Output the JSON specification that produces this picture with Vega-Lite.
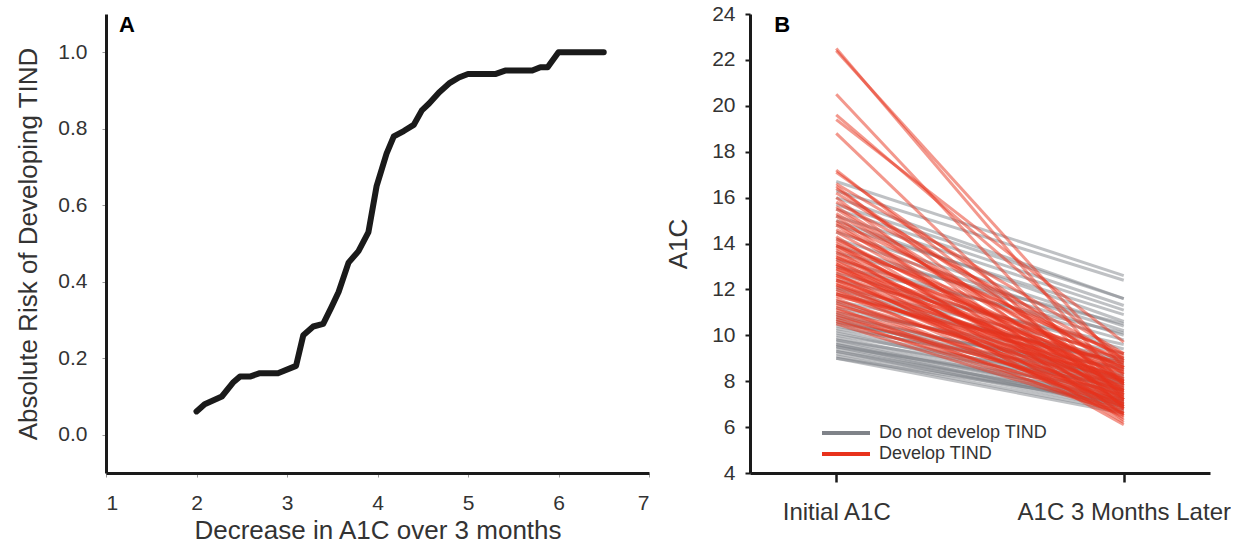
{
  "$schema": "https://vega.github.io/schema/vega-lite/v6.json",
  "background": "white",
  "padding": {"left": 15, "top": 3, "right": 0, "bottom": 0},
  "spacing": 15,
  "config": {
    "view": {"stroke": null},
    "font": "Liberation Sans",
    "axis": {"grid": false, "domainColor": "#1a1a1a", "domainWidth": 3, "labelColor": "#333333", "titleColor": "#333333", "titleFontWeight": "normal", "labelFont": "Liberation Sans", "titleFont": "Liberation Sans", "labelLimit": 400}
  },
  "hconcat": [
    {
      "width": 543,
      "height": 459,
      "layer": [
        {
          "data": {"values": [
            {"decrease": 2.0, "risk": 0.061}, {"decrease": 2.09, "risk": 0.08}, {"decrease": 2.28, "risk": 0.10},
            {"decrease": 2.41, "risk": 0.138}, {"decrease": 2.48, "risk": 0.152}, {"decrease": 2.59, "risk": 0.152},
            {"decrease": 2.7, "risk": 0.161}, {"decrease": 2.9, "risk": 0.161}, {"decrease": 3.1, "risk": 0.18},
            {"decrease": 3.18, "risk": 0.26}, {"decrease": 3.29, "risk": 0.283}, {"decrease": 3.4, "risk": 0.29},
            {"decrease": 3.49, "risk": 0.333}, {"decrease": 3.57, "risk": 0.373}, {"decrease": 3.68, "risk": 0.45},
            {"decrease": 3.79, "risk": 0.48}, {"decrease": 3.9, "risk": 0.53}, {"decrease": 3.99, "risk": 0.65},
            {"decrease": 4.1, "risk": 0.735}, {"decrease": 4.18, "risk": 0.78}, {"decrease": 4.29, "risk": 0.794},
            {"decrease": 4.4, "risk": 0.81}, {"decrease": 4.49, "risk": 0.848}, {"decrease": 4.57, "risk": 0.866},
            {"decrease": 4.68, "risk": 0.895}, {"decrease": 4.8, "risk": 0.92}, {"decrease": 4.9, "risk": 0.934},
            {"decrease": 5.0, "risk": 0.943}, {"decrease": 5.3, "risk": 0.943}, {"decrease": 5.41, "risk": 0.952},
            {"decrease": 5.71, "risk": 0.952}, {"decrease": 5.8, "risk": 0.961}, {"decrease": 5.88, "risk": 0.961},
            {"decrease": 6.0, "risk": 1.0}, {"decrease": 6.5, "risk": 1.0}
          ]},
          "mark": {"type": "line", "color": "#1a1a1a", "strokeWidth": 6, "strokeCap": "round", "strokeJoin": "round"},
          "encoding": {
            "x": {"field": "decrease", "type": "quantitative",
                  "scale": {"domain": [1, 7], "nice": false, "zero": false},
                  "axis": {"title": "Decrease in A1C over 3 months", "values": [1, 2, 3, 4, 5, 6, 7], "format": "d",
                           "tickColor": "#999999", "tickSize": 4, "tickWidth": 1, "labelPadding": 15, "labelFontSize": 21,
                           "titleFontSize": 26, "titlePadding": 4}},
            "y": {"field": "risk", "type": "quantitative",
                  "scale": {"domain": [-0.1, 1.1], "nice": false, "zero": false},
                  "axis": {"title": "Absolute Risk of Developing TIND", "values": [0, 0.2, 0.4, 0.6, 0.8, 1.0], "format": ".1f",
                           "tickColor": "#999999", "tickSize": 4, "tickWidth": 1, "labelPadding": 15, "labelFontSize": 21,
                           "titleFontSize": 26, "titlePadding": 16}}
          }
        },
        {
          "data": {"values": [{"panel": "A"}]},
          "mark": {"type": "text", "fontSize": 22, "fontWeight": "bold", "color": "#000000", "align": "center", "baseline": "middle"},
          "encoding": {
            "text": {"field": "panel"},
            "x": {"datum": 1.23, "type": "quantitative"},
            "y": {"datum": 1.07, "type": "quantitative"}
          }
        }
      ]
    },
    {
      "width": 460,
      "height": 459,
      "data": {"values": [
        {"id": "g1", "group": "Do not develop TIND", "Initial A1C": 16.7, "A1C 3 Months Later": 12.6},
        {"id": "g2", "group": "Do not develop TIND", "Initial A1C": 16.3, "A1C 3 Months Later": 12.4},
        {"id": "g3", "group": "Do not develop TIND", "Initial A1C": 16.0, "A1C 3 Months Later": 11.6},
        {"id": "g4", "group": "Do not develop TIND", "Initial A1C": 15.7, "A1C 3 Months Later": 11.6},
        {"id": "g5", "group": "Do not develop TIND", "Initial A1C": 15.5, "A1C 3 Months Later": 11.3},
        {"id": "g6", "group": "Do not develop TIND", "Initial A1C": 15.2, "A1C 3 Months Later": 11.1},
        {"id": "g7", "group": "Do not develop TIND", "Initial A1C": 15.0, "A1C 3 Months Later": 10.6},
        {"id": "g8", "group": "Do not develop TIND", "Initial A1C": 14.8, "A1C 3 Months Later": 10.9},
        {"id": "g9", "group": "Do not develop TIND", "Initial A1C": 14.5, "A1C 3 Months Later": 10.4},
        {"id": "g10", "group": "Do not develop TIND", "Initial A1C": 14.2, "A1C 3 Months Later": 10.2},
        {"id": "g11", "group": "Do not develop TIND", "Initial A1C": 13.9, "A1C 3 Months Later": 10.0},
        {"id": "g12", "group": "Do not develop TIND", "Initial A1C": 13.6, "A1C 3 Months Later": 10.5},
        {"id": "g13", "group": "Do not develop TIND", "Initial A1C": 13.3, "A1C 3 Months Later": 9.8},
        {"id": "g14", "group": "Do not develop TIND", "Initial A1C": 13.0, "A1C 3 Months Later": 10.1},
        {"id": "g15", "group": "Do not develop TIND", "Initial A1C": 12.7, "A1C 3 Months Later": 9.4},
        {"id": "g16", "group": "Do not develop TIND", "Initial A1C": 12.4, "A1C 3 Months Later": 9.6},
        {"id": "g17", "group": "Do not develop TIND", "Initial A1C": 12.1, "A1C 3 Months Later": 9.2},
        {"id": "g18", "group": "Do not develop TIND", "Initial A1C": 11.8, "A1C 3 Months Later": 8.8},
        {"id": "g19", "group": "Do not develop TIND", "Initial A1C": 11.5, "A1C 3 Months Later": 9.0},
        {"id": "g20", "group": "Do not develop TIND", "Initial A1C": 11.2, "A1C 3 Months Later": 8.5},
        {"id": "g21", "group": "Do not develop TIND", "Initial A1C": 11.0, "A1C 3 Months Later": 8.9},
        {"id": "g22", "group": "Do not develop TIND", "Initial A1C": 10.8, "A1C 3 Months Later": 8.3},
        {"id": "g23", "group": "Do not develop TIND", "Initial A1C": 10.6, "A1C 3 Months Later": 8.0},
        {"id": "g24", "group": "Do not develop TIND", "Initial A1C": 10.5, "A1C 3 Months Later": 8.6},
        {"id": "g25", "group": "Do not develop TIND", "Initial A1C": 10.4, "A1C 3 Months Later": 7.9},
        {"id": "g26", "group": "Do not develop TIND", "Initial A1C": 10.3, "A1C 3 Months Later": 8.2},
        {"id": "g27", "group": "Do not develop TIND", "Initial A1C": 10.2, "A1C 3 Months Later": 7.7},
        {"id": "g28", "group": "Do not develop TIND", "Initial A1C": 10.1, "A1C 3 Months Later": 7.5},
        {"id": "g29", "group": "Do not develop TIND", "Initial A1C": 10.0, "A1C 3 Months Later": 7.9},
        {"id": "g30", "group": "Do not develop TIND", "Initial A1C": 9.9, "A1C 3 Months Later": 7.4},
        {"id": "g31", "group": "Do not develop TIND", "Initial A1C": 9.8, "A1C 3 Months Later": 7.2},
        {"id": "g32", "group": "Do not develop TIND", "Initial A1C": 9.8, "A1C 3 Months Later": 7.8},
        {"id": "g33", "group": "Do not develop TIND", "Initial A1C": 9.7, "A1C 3 Months Later": 7.1},
        {"id": "g34", "group": "Do not develop TIND", "Initial A1C": 9.6, "A1C 3 Months Later": 7.3},
        {"id": "g35", "group": "Do not develop TIND", "Initial A1C": 9.5, "A1C 3 Months Later": 7.0},
        {"id": "g36", "group": "Do not develop TIND", "Initial A1C": 9.5, "A1C 3 Months Later": 7.6},
        {"id": "g37", "group": "Do not develop TIND", "Initial A1C": 9.4, "A1C 3 Months Later": 6.9},
        {"id": "g38", "group": "Do not develop TIND", "Initial A1C": 9.3, "A1C 3 Months Later": 7.2},
        {"id": "g39", "group": "Do not develop TIND", "Initial A1C": 9.3, "A1C 3 Months Later": 6.8},
        {"id": "g40", "group": "Do not develop TIND", "Initial A1C": 9.2, "A1C 3 Months Later": 7.0},
        {"id": "g41", "group": "Do not develop TIND", "Initial A1C": 9.1, "A1C 3 Months Later": 6.7},
        {"id": "g42", "group": "Do not develop TIND", "Initial A1C": 9.0, "A1C 3 Months Later": 6.6},
        {"id": "g43", "group": "Do not develop TIND", "Initial A1C": 9.0, "A1C 3 Months Later": 7.1},
        {"id": "g44", "group": "Do not develop TIND", "Initial A1C": 10.9, "A1C 3 Months Later": 8.1},
        {"id": "g45", "group": "Do not develop TIND", "Initial A1C": 11.4, "A1C 3 Months Later": 8.0},
        {"id": "g46", "group": "Do not develop TIND", "Initial A1C": 12.0, "A1C 3 Months Later": 8.7},
        {"id": "g47", "group": "Do not develop TIND", "Initial A1C": 10.7, "A1C 3 Months Later": 7.6},
        {"id": "g48", "group": "Do not develop TIND", "Initial A1C": 9.6, "A1C 3 Months Later": 6.9},
        {"id": "r1", "group": "Develop TIND", "Initial A1C": 22.5, "A1C 3 Months Later": 7.8},
        {"id": "r2", "group": "Develop TIND", "Initial A1C": 22.4, "A1C 3 Months Later": 8.6},
        {"id": "r3", "group": "Develop TIND", "Initial A1C": 20.5, "A1C 3 Months Later": 7.2},
        {"id": "r4", "group": "Develop TIND", "Initial A1C": 19.6, "A1C 3 Months Later": 8.9},
        {"id": "r5", "group": "Develop TIND", "Initial A1C": 19.4, "A1C 3 Months Later": 9.7},
        {"id": "r6", "group": "Develop TIND", "Initial A1C": 18.8, "A1C 3 Months Later": 6.8},
        {"id": "r7", "group": "Develop TIND", "Initial A1C": 17.2, "A1C 3 Months Later": 7.4},
        {"id": "r8", "group": "Develop TIND", "Initial A1C": 17.1, "A1C 3 Months Later": 8.3},
        {"id": "r9", "group": "Develop TIND", "Initial A1C": 16.6, "A1C 3 Months Later": 9.2},
        {"id": "r10", "group": "Develop TIND", "Initial A1C": 16.5, "A1C 3 Months Later": 6.9},
        {"id": "r11", "group": "Develop TIND", "Initial A1C": 16.4, "A1C 3 Months Later": 7.9},
        {"id": "r12", "group": "Develop TIND", "Initial A1C": 16.2, "A1C 3 Months Later": 8.5},
        {"id": "r13", "group": "Develop TIND", "Initial A1C": 16.0, "A1C 3 Months Later": 6.5},
        {"id": "r14", "group": "Develop TIND", "Initial A1C": 15.8, "A1C 3 Months Later": 9.0},
        {"id": "r15", "group": "Develop TIND", "Initial A1C": 15.5, "A1C 3 Months Later": 7.6},
        {"id": "r16", "group": "Develop TIND", "Initial A1C": 15.3, "A1C 3 Months Later": 8.1},
        {"id": "r17", "group": "Develop TIND", "Initial A1C": 15.2, "A1C 3 Months Later": 6.3},
        {"id": "r18", "group": "Develop TIND", "Initial A1C": 15.0, "A1C 3 Months Later": 8.8},
        {"id": "r19", "group": "Develop TIND", "Initial A1C": 14.8, "A1C 3 Months Later": 7.2},
        {"id": "r20", "group": "Develop TIND", "Initial A1C": 14.6, "A1C 3 Months Later": 9.1},
        {"id": "r21", "group": "Develop TIND", "Initial A1C": 14.5, "A1C 3 Months Later": 7.7},
        {"id": "r22", "group": "Develop TIND", "Initial A1C": 14.3, "A1C 3 Months Later": 6.6},
        {"id": "r23", "group": "Develop TIND", "Initial A1C": 14.1, "A1C 3 Months Later": 8.4},
        {"id": "r24", "group": "Develop TIND", "Initial A1C": 14.0, "A1C 3 Months Later": 7.0},
        {"id": "r25", "group": "Develop TIND", "Initial A1C": 13.9, "A1C 3 Months Later": 9.2},
        {"id": "r26", "group": "Develop TIND", "Initial A1C": 13.8, "A1C 3 Months Later": 7.9},
        {"id": "r27", "group": "Develop TIND", "Initial A1C": 13.7, "A1C 3 Months Later": 6.2},
        {"id": "r28", "group": "Develop TIND", "Initial A1C": 13.6, "A1C 3 Months Later": 8.6},
        {"id": "r29", "group": "Develop TIND", "Initial A1C": 13.5, "A1C 3 Months Later": 7.4},
        {"id": "r30", "group": "Develop TIND", "Initial A1C": 13.4, "A1C 3 Months Later": 8.9},
        {"id": "r31", "group": "Develop TIND", "Initial A1C": 13.3, "A1C 3 Months Later": 6.8},
        {"id": "r32", "group": "Develop TIND", "Initial A1C": 13.2, "A1C 3 Months Later": 8.0},
        {"id": "r33", "group": "Develop TIND", "Initial A1C": 13.1, "A1C 3 Months Later": 7.2},
        {"id": "r34", "group": "Develop TIND", "Initial A1C": 13.0, "A1C 3 Months Later": 9.0},
        {"id": "r35", "group": "Develop TIND", "Initial A1C": 12.9, "A1C 3 Months Later": 7.6},
        {"id": "r36", "group": "Develop TIND", "Initial A1C": 12.8, "A1C 3 Months Later": 8.3},
        {"id": "r37", "group": "Develop TIND", "Initial A1C": 12.7, "A1C 3 Months Later": 6.4},
        {"id": "r38", "group": "Develop TIND", "Initial A1C": 12.6, "A1C 3 Months Later": 8.7},
        {"id": "r39", "group": "Develop TIND", "Initial A1C": 12.5, "A1C 3 Months Later": 7.1},
        {"id": "r40", "group": "Develop TIND", "Initial A1C": 12.4, "A1C 3 Months Later": 8.1},
        {"id": "r41", "group": "Develop TIND", "Initial A1C": 12.3, "A1C 3 Months Later": 6.9},
        {"id": "r42", "group": "Develop TIND", "Initial A1C": 12.2, "A1C 3 Months Later": 8.5},
        {"id": "r43", "group": "Develop TIND", "Initial A1C": 12.1, "A1C 3 Months Later": 7.5},
        {"id": "r44", "group": "Develop TIND", "Initial A1C": 12.0, "A1C 3 Months Later": 6.6},
        {"id": "r45", "group": "Develop TIND", "Initial A1C": 11.9, "A1C 3 Months Later": 8.0},
        {"id": "r46", "group": "Develop TIND", "Initial A1C": 11.8, "A1C 3 Months Later": 7.3},
        {"id": "r47", "group": "Develop TIND", "Initial A1C": 11.7, "A1C 3 Months Later": 8.8},
        {"id": "r48", "group": "Develop TIND", "Initial A1C": 11.6, "A1C 3 Months Later": 6.8},
        {"id": "r49", "group": "Develop TIND", "Initial A1C": 11.5, "A1C 3 Months Later": 7.8},
        {"id": "r50", "group": "Develop TIND", "Initial A1C": 11.4, "A1C 3 Months Later": 7.0},
        {"id": "r51", "group": "Develop TIND", "Initial A1C": 11.3, "A1C 3 Months Later": 8.2},
        {"id": "r52", "group": "Develop TIND", "Initial A1C": 11.2, "A1C 3 Months Later": 6.5},
        {"id": "r53", "group": "Develop TIND", "Initial A1C": 11.1, "A1C 3 Months Later": 7.6},
        {"id": "r54", "group": "Develop TIND", "Initial A1C": 11.0, "A1C 3 Months Later": 7.2},
        {"id": "r55", "group": "Develop TIND", "Initial A1C": 10.9, "A1C 3 Months Later": 6.9},
        {"id": "r56", "group": "Develop TIND", "Initial A1C": 10.8, "A1C 3 Months Later": 7.4},
        {"id": "r57", "group": "Develop TIND", "Initial A1C": 10.7, "A1C 3 Months Later": 6.7},
        {"id": "r58", "group": "Develop TIND", "Initial A1C": 10.6, "A1C 3 Months Later": 7.1},
        {"id": "r59", "group": "Develop TIND", "Initial A1C": 10.5, "A1C 3 Months Later": 6.6},
        {"id": "r60", "group": "Develop TIND", "Initial A1C": 14.2, "A1C 3 Months Later": 8.0},
        {"id": "r61", "group": "Develop TIND", "Initial A1C": 13.9, "A1C 3 Months Later": 7.3},
        {"id": "r62", "group": "Develop TIND", "Initial A1C": 13.4, "A1C 3 Months Later": 7.7},
        {"id": "r63", "group": "Develop TIND", "Initial A1C": 12.9, "A1C 3 Months Later": 8.6},
        {"id": "r64", "group": "Develop TIND", "Initial A1C": 12.6, "A1C 3 Months Later": 7.9},
        {"id": "r65", "group": "Develop TIND", "Initial A1C": 12.2, "A1C 3 Months Later": 7.0},
        {"id": "r66", "group": "Develop TIND", "Initial A1C": 11.8, "A1C 3 Months Later": 8.4},
        {"id": "r67", "group": "Develop TIND", "Initial A1C": 15.6, "A1C 3 Months Later": 8.0},
        {"id": "r68", "group": "Develop TIND", "Initial A1C": 14.9, "A1C 3 Months Later": 7.5},
        {"id": "r69", "group": "Develop TIND", "Initial A1C": 13.1, "A1C 3 Months Later": 6.1},
        {"id": "r70", "group": "Develop TIND", "Initial A1C": 12.4, "A1C 3 Months Later": 7.6}
      ]},
      "transform": [{"fold": ["Initial A1C", "A1C 3 Months Later"], "as": ["stage", "a1c"]}],
      "layer": [
        {
          "mark": {"type": "line", "strokeWidth": 3, "opacity": 0.5},
          "encoding": {
            "x": {"field": "stage", "type": "nominal", "sort": ["Initial A1C", "A1C 3 Months Later"],
                  "scale": {"type": "point", "padding": 0.3},
                  "axis": {"title": null, "labelAngle": 0, "labelFontSize": 24, "labelPadding": 18,
                           "tickColor": "#1a1a1a", "tickSize": 9, "tickWidth": 2.5}},
            "y": {"field": "a1c", "type": "quantitative",
                  "scale": {"domain": [4, 24], "nice": false, "zero": false},
                  "axis": {"title": "A1C", "values": [4, 6, 8, 10, 12, 14, 16, 18, 20, 22, 24],
                           "tickColor": "#1a1a1a", "tickSize": 5, "tickWidth": 2, "labelPadding": 10,
                           "labelFontSize": 21, "titleFontSize": 26, "titlePadding": 20}},
            "detail": {"field": "id"},
            "color": {"field": "group", "type": "nominal",
                      "scale": {"domain": ["Do not develop TIND", "Develop TIND"], "range": ["#7f8389", "#e8321c"]},
                      "legend": {"title": null, "orient": "none", "legendX": 728, "legendY": 407,
                                 "symbolType": "M-2.4,0H2.4", "symbolSize": 400, "symbolStrokeWidth": 4,
                                 "symbolOpacity": 1, "labelFontSize": 18, "labelColor": "#333333", "labelLimit": 400,
                                 "labelOffset": 21, "rowPadding": 0, "padding": 0}}
          }
        },
        {
          "data": {"values": [{"panel": "B"}]},
          "mark": {"type": "text", "fontSize": 22, "fontWeight": "bold", "color": "#000000", "align": "center", "baseline": "middle", "dx": -54},
          "encoding": {
            "text": {"field": "panel"},
            "x": {"datum": "Initial A1C", "type": "nominal"},
            "y": {"datum": 23.5, "type": "quantitative"}
          }
        }
      ]
    }
  ]
}
